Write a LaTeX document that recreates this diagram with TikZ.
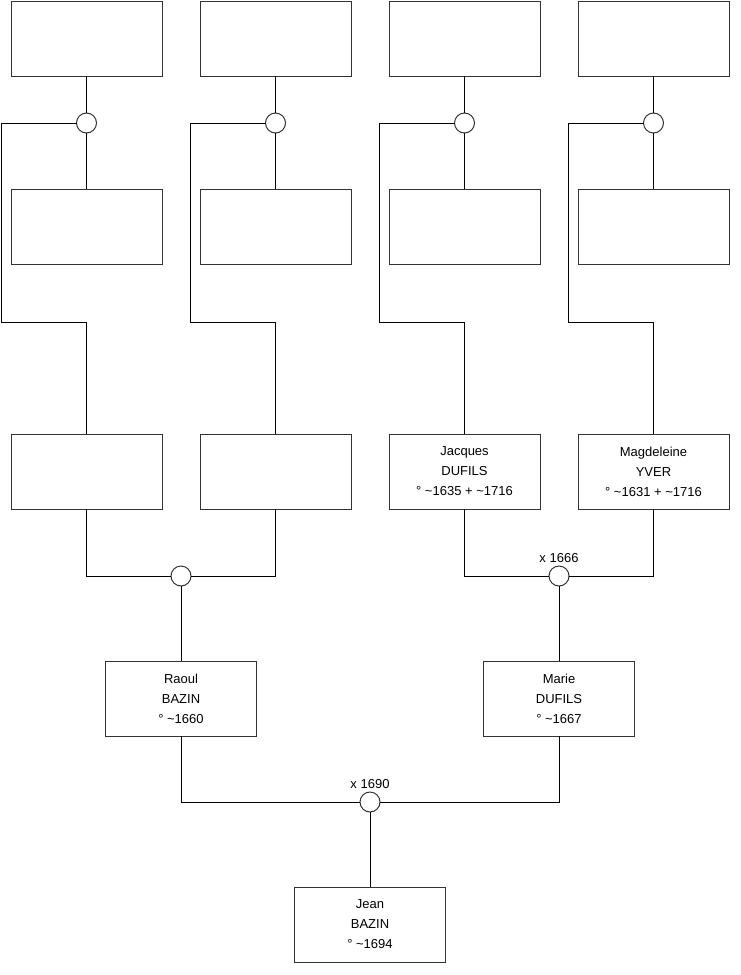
\documentclass[tikz,border=0pt]{standalone}
\usepackage{fontspec}
\setmainfont{Liberation Sans}
\usepackage{tikz}
\usetikzlibrary{positioning, calc}

\begin{document}
\begin{tikzpicture}[
  x=1pt, y=-1pt,
  person/.style={draw=black!80, line width=1pt, minimum width=151pt, minimum height=75pt,
                 outer sep=0pt, inner sep=0pt, align=center, font=\fontsize{13}{20}\selectfont},
  knot/.style={draw=black!80, circle, line width=1pt, minimum size=20pt, inner sep=0pt, outer sep=0pt},
  link/.style={draw=black, line width=1pt},
  year/.style={inner sep=1pt, font=\fontsize{13}{15}\selectfont}
]
  \useasboundingbox (0,0) rectangle (740,975);

  % oldest generation
  \node[person] (a1) at (86.5,38.5) {};
  \node[person, right=38pt of a1] (a2) {};
  \node[person, right=38pt of a2] (a3) {};
  \node[person, right=38pt of a3] (a4) {};

  \node[knot, below=37pt of a1] (m1) {};
  \node[knot, below=37pt of a2] (m2) {};
  \node[knot, below=37pt of a3] (m3) {};
  \node[knot, below=37pt of a4] (m4) {};

  \node[person, below=56pt of m1] (b1) {};
  \node[person, below=56pt of m2] (b2) {};
  \node[person, below=56pt of m3] (b3) {};
  \node[person, below=56pt of m4] (b4) {};

  % grandparents
  \node[person, below=170pt of b1] (g1) {};
  \node[person, below=170pt of b2] (g2) {};
  \node[person, below=170pt of b3] (g3) {Jacques\\DUFILS\\° \textasciitilde1635 + \textasciitilde1716};
  \node[person, below=170pt of b4] (g4) {Magdeleine\\YVER\\° \textasciitilde1631 + \textasciitilde1716};

  \coordinate (k1) at (1.5,322);
  \coordinate (k2) at (190.5,322);
  \coordinate (k3) at (379.5,322);
  \coordinate (k4) at (568.5,322);

  \node[knot, below=57pt of $(g1.south)!0.5!(g2.south)$] (u1) {};
  \node[knot, below=57pt of $(g3.south)!0.5!(g4.south)$] (u2) {};
  \node[year, above=2pt of u2] (l2) {x 1666};

  % parents
  \node[person, below=75pt of u1] (c1) {Raoul\\BAZIN\\° \textasciitilde1660};
  \node[person, below=75pt of u2] (c2) {Marie\\DUFILS\\° \textasciitilde1667};

  \node[knot, below=56pt of $(c1.south)!0.5!(c2.south)$] (v) {};
  \node[year, above=2pt of v] (lv) {x 1690};

  \node[person, below=75pt of v] (jean) {Jean\\BAZIN\\° \textasciitilde1694};

  \draw[link] (a1) -- (m1);
  \draw[link] (a2) -- (m2);
  \draw[link] (a3) -- (m3);
  \draw[link] (a4) -- (m4);
  \draw[link] (m1) -- (b1);
  \draw[link] (m2) -- (b2);
  \draw[link] (m3) -- (b3);
  \draw[link] (m4) -- (b4);

  \draw[link] (m1.west) -| (k1) -| (g1.north);
  \draw[link] (m2.west) -| (k2) -| (g2.north);
  \draw[link] (m3.west) -| (k3) -| (g3.north);
  \draw[link] (m4.west) -| (k4) -| (g4.north);

  \draw[link] (g1.south) |- (u1.west);
  \draw[link] (g2.south) |- (u1.east);
  \draw[link] (g3.south) |- (u2.west);
  \draw[link] (g4.south) |- (u2.east);
  \draw[link] (u1) -- (c1);
  \draw[link] (u2) -- (c2);

  \draw[link] (c1.south) |- (v.west);
  \draw[link] (c2.south) |- (v.east);
  \draw[link] (v) -- (jean);
\end{tikzpicture}
\end{document}
